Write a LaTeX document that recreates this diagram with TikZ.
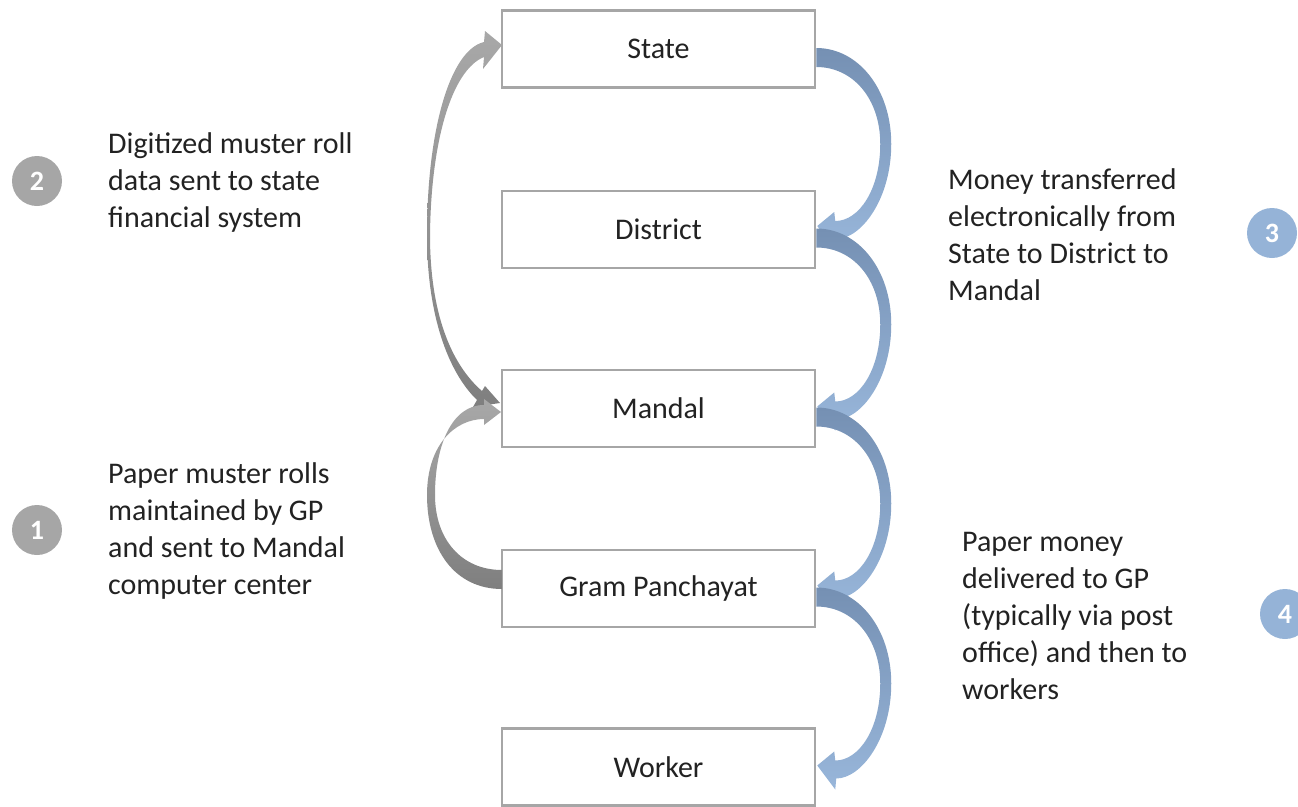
\documentclass[tikz,border=0pt]{standalone}
\usepackage{fontspec}
\setmainfont{Carlito}
\definecolor{boxgray}{HTML}{A6A6A6}
\definecolor{txt}{HTML}{222222}
\definecolor{dkblue}{HTML}{7590B3}
\definecolor{ltblue}{HTML}{98B6DA}
\definecolor{dkgray}{HTML}{7F7F7F}
\definecolor{ltgray}{HTML}{A8A8A8}
\definecolor{numgray}{HTML}{A6A6A6}
\definecolor{numblue}{HTML}{95B3D7}
\tikzset{
  box/.style={draw=boxgray, line width=2.5pt, fill=white, minimum width=313pt,
    minimum height=77pt, inner sep=0pt, text=txt, font=\fontsize{30}{36}\selectfont},
  side/.style={anchor=west, align=left, inner sep=0pt, text=txt,
    font=\fontsize{30}{37}\selectfont},
  num/.style={circle, minimum size=50pt, inner sep=0pt, text=white,
    font=\fontsize{28}{32}\selectfont\bfseries},
  rarrow/.style={top color=dkblue, middle color=dkblue!55!ltblue, bottom color=ltblue},
  larrow/.style={top color=ltgray, bottom color=dkgray},
}
\newcommand{\rightcurve}{%
  (0,-1) .. controls (42,-1) and (75,40) .. (75,95)
  .. controls (75,150) and (45,190) .. (20,190)
  -- (19,201) -- (1,177) -- (18,163) -- (19,172)
  .. controls (43,172) and (64,140) .. (64,95)
  .. controls (64,50) and (37,18) .. (0,18) -- cycle}
\begin{document}
\begin{tikzpicture}[x=1pt,y=-1pt]
\useasboundingbox (0,0) rectangle (1298,806);

% boxes
\node[box] (state)    at (658.5,49)    {State};
\node[box] (district) at (658.5,229.5) {District};
\node[box] (mandal)   at (658.5,408.5) {Mandal};
\node[box] (gp)       at (658.5,588.5) {Gram Panchayat};
\node[box] (worker)   at (658.5,767)   {Worker};

% right-side money arrows
\begin{scope}[shift={(state.east)}]
  \shade[rarrow] \rightcurve;
\end{scope}
\begin{scope}[shift={(district.east)}]
  \shade[rarrow] \rightcurve;
\end{scope}
\begin{scope}[shift={(mandal.east)}]
  \shade[rarrow] \rightcurve;
\end{scope}
\begin{scope}[shift={(gp.east)}]
  \shade[rarrow] \rightcurve;
\end{scope}

% left: double-headed arrow Mandal <-> State
\shade[top color=ltgray, middle color=ltgray!70!white, bottom color=dkgray]
  (484,42) -- (485,31) -- (502,45) -- (483,69) -- (484,57)
  .. controls (452,70) and (431,140) .. (430,235)
  .. controls (430,315) and (452,365) .. (482,391)
  -- (485,386) -- (500,403) -- (473,407) -- (477,400)
  .. controls (448,372) and (427,315) .. (427,235)
  .. controls (427,130) and (450,50) .. (484,42) -- cycle;

% left: GP -> Mandal arrow
\shade[larrow]
  (502,589) .. controls (455,589) and (427,550) .. (427,495)
  .. controls (427,445) and (455,419) .. (484,419)
  -- (484,425) -- (501,412) -- (484,399) -- (484,405)
  .. controls (452,405) and (435,445) .. (435,495)
  .. controls (435,540) and (462,570) .. (502,570) -- cycle;

% numbered circles
\node[num, fill=numgray] (c2) at (37,181)   {2};
\node[num, fill=numgray] (c1) at (37,530)   {1};
\node[num, fill=numblue] (c3) at (1272,233) {3};
\node[num, fill=numblue] (c4) at (1285,614) {4};

% side texts
\node[side] (t2) at (108,182) {Digitized muster roll\\data sent to state\\financial system};
\node[side] (t1) at (108,531) {Paper muster rolls\\maintained by GP\\and sent to Mandal\\computer center};
\node[side] (t3) at (948,235) {Money transferred\\electronically from\\State to District to\\Mandal};
\node[side] (t4) at (962,616) {Paper money\\delivered to GP\\(typically via post\\office) and then to\\workers};
\end{tikzpicture}
\end{document}
